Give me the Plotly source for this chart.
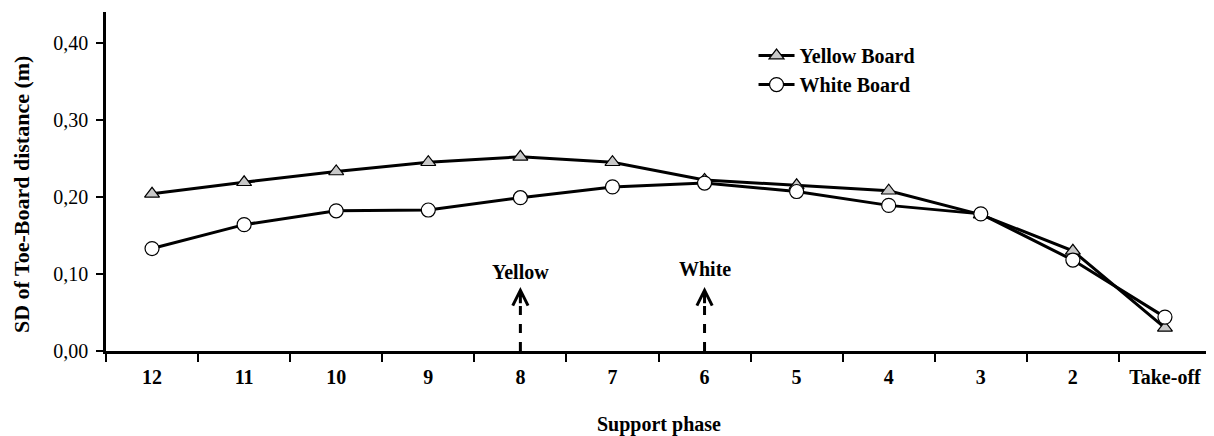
import plotly.graph_objects as go

categories = ["12", "11", "10", "9", "8", "7", "6", "5", "4", "3", "2", "Take-off"]
yellow = [0.204, 0.219, 0.233, 0.245, 0.252, 0.245, 0.222, 0.215, 0.208, 0.177, 0.130, 0.030]
white = [0.133, 0.164, 0.182, 0.183, 0.199, 0.213, 0.218, 0.207, 0.189, 0.178, 0.118, 0.044]
markers = [("Yellow", "8", 0.103), ("White", "6", 0.107)]

FONT = "Liberation Serif"
FS = 20

fig = go.Figure()
fig.add_trace(go.Scatter(
    x=categories, y=yellow, name="<b>Yellow Board</b>", mode="lines+markers",
    line=dict(color="black", width=3),
    marker=dict(symbol="triangle-up", size=13, color="#c8c8c8", line=dict(color="black", width=1.2)),
))
fig.add_trace(go.Scatter(
    x=categories, y=white, name="<b>White Board</b>", mode="lines+markers",
    line=dict(color="black", width=3),
    marker=dict(symbol="circle", size=14, color="white", line=dict(color="black", width=1.2)),
))

for label, cat, ty in markers:
    xi = categories.index(cat)
    fig.add_shape(type="line", x0=xi, x1=xi, y0=0, y1=0.074, xref="x", yref="y",
                  line=dict(color="black", width=3, dash="dash"))
    fig.add_annotation(x=xi, y=0.083, ax=xi, ay=0.06, xref="x", yref="y", axref="x", ayref="y",
                       showarrow=True, arrowhead=5, arrowsize=1, arrowwidth=3, arrowcolor="black", text="")
    fig.add_annotation(x=xi, y=ty, text="<b>%s</b>" % label, showarrow=False, xref="x", yref="y",
                       font=dict(family=FONT, size=FS, color="black"))

# axis titles
fig.add_annotation(text="<b>SD of Toe-Board distance (m)</b>", textangle=-90, showarrow=False,
                   xref="paper", yref="paper", x=0, y=0.46, xanchor="center", yanchor="middle",
                   xshift=-85, font=dict(family=FONT, size=22, color="black"))
fig.add_annotation(text="<b>Support phase</b>", showarrow=False,
                   xref="paper", yref="paper", x=0.5, y=0, xanchor="center", yanchor="middle",
                   yshift=-73, font=dict(family=FONT, size=FS, color="black"))

fig.update_layout(
    width=1206, height=428,
    margin=dict(l=98, r=3, t=4, b=85),
    plot_bgcolor="white", paper_bgcolor="white",
    separators=",.",
    font=dict(family=FONT, size=FS, color="black"),
    legend=dict(x=0.586, y=0.929, xanchor="left", yanchor="top", bgcolor="rgba(0,0,0,0)",
                itemwidth=36,
                font=dict(family=FONT, size=FS, color="black"), tracegroupgap=0),
    showlegend=True,
)
fig.update_xaxes(
    type="category", range=[-0.5, 11.5], showline=True, linecolor="black", linewidth=2.5,
    ticks="outside", tickson="boundaries", ticklen=8, tickwidth=2, tickcolor="black",
    showgrid=False, zeroline=False, automargin=False, ticklabelstandoff=6,
    tickfont=dict(family=FONT, size=FS, color="black"),
    tickprefix="<b>", ticksuffix="</b>",
)
fig.update_yaxes(
    range=[0, 0.44], tickvals=[0, 0.1, 0.2, 0.3, 0.4], tickformat=".2f",
    showline=True, linecolor="black", linewidth=2.5,
    ticks="outside", ticklen=7, tickwidth=2, tickcolor="black",
    showgrid=False, zeroline=False, automargin=False, ticklabelstandoff=4,
    tickfont=dict(family=FONT, size=FS, color="black"),
    tickprefix="<b>", ticksuffix="</b>",
)

fig.write_html("out.html")
